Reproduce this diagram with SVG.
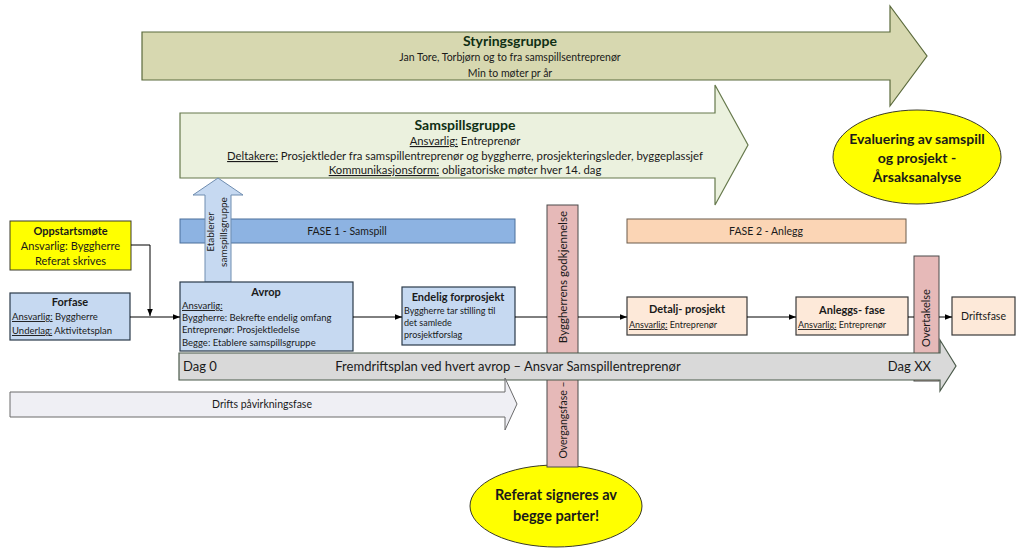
<svg xmlns="http://www.w3.org/2000/svg" width="1024" height="554" viewBox="0 0 1024 554">
<defs>
<marker id="ah" viewBox="0 0 10 10" refX="10" refY="5" markerWidth="7" markerHeight="7" markerUnits="userSpaceOnUse" orient="auto">
<path d="M0,1 L10,5 L0,9 Z" fill="#000"/>
</marker>
</defs>
<style>
text{font-family:Lato,"Open Sans","Liberation Sans",sans-serif;fill:#1a1a1a}
.b{font-weight:bold}
.u{text-decoration:underline}
.c{text-anchor:middle}
.blue{fill:#c6d9f1;stroke:#2b3a4a;stroke-width:1.2}
.peach{fill:#fde9d9;stroke:#3a3a3a;stroke-width:1.2}
.pink{fill:#e6b9b8;stroke:#4a4a4a;stroke-width:1}
.yel{fill:#ffff00;stroke:#3a3a2a;stroke-width:1}
.conn{fill:none;stroke:#000;stroke-width:1}
.t9{font-size:9.5px}
.t11{font-size:11px}
.g{fill:#0f2f14}
</style>
<rect width="1024" height="554" fill="#fff"/>

<g id="styringsgruppe">
<path d="M142,32 H890 V6 L927,56 L890,106 V80 H142 Z" fill="#d7d8b0" stroke="#5b6a3c" stroke-width="1.2"/>
<text x="510" y="46" class="c b g" font-size="14">Styringsgruppe</text>
<text x="510" y="61" class="c" font-size="10.5">Jan Tore, Torbjørn og to fra samspillsentreprenør</text>
<text x="510" y="77" class="c" font-size="10.5">Min to møter pr år</text>
</g>

<g id="samspillsgruppe">
<path d="M180,113 H715 V85 L748,145 L715,205 V178 H180 Z" fill="#ebf1de" stroke="#66794c" stroke-width="1.2"/>
<text x="465" y="130" class="c b g" font-size="14">Samspillsgruppe</text>
<text x="465" y="145" class="c" font-size="11.3"><tspan class="u">Ansvarlig:</tspan> Entreprenør</text>
<text x="465" y="160" class="c" font-size="11.3"><tspan class="u">Deltakere:</tspan> Prosjektleder fra samspillentreprenør og byggherre, prosjekteringsleder, byggeplassjef</text>
<text x="465" y="174" class="c" font-size="11.3"><tspan class="u">Kommunikasjonsform:</tspan> obligatoriske møter hver 14. dag</text>
</g>

<g id="evaluering">
<ellipse cx="917" cy="157" rx="84" ry="47" class="yel"/>
<text x="917" y="144" class="c b" font-size="14">Evaluering av samspill</text>
<text x="917" y="163" class="c b" font-size="14">og prosjekt -</text>
<text x="917" y="182" class="c b" font-size="14">Årsaksanalyse</text>
</g>

<g id="fase1">
<rect x="180" y="219" width="335" height="24" fill="#8db3e2" stroke="#4a6e9a" stroke-width="1"/>
<text x="347" y="235" class="c" font-size="10.5">FASE 1 - Samspill</text>
</g>

<g id="fase2">
<rect x="627" y="219" width="279" height="24" fill="#fbd5b5" stroke="#6a5a4a" stroke-width="1"/>
<text x="766" y="235" class="c" font-size="10.5">FASE 2 - Anlegg</text>
</g>

<g id="etablerer">
<path d="M205,282 V195 H193 L218,178 L243,195 H231 V282 Z" fill="#c6d9f1" stroke="#6f8db0" stroke-width="1"/>
<text transform="translate(214,232) rotate(-90)" class="c" font-size="10">Etablerer</text>
<text transform="translate(227,232) rotate(-90)" class="c" font-size="10">samspillsgruppe</text>
</g>

<g id="oppstartsmote">
<rect x="10" y="221" width="121" height="49" class="yel"/>
<text x="70.5" y="235" class="c b" font-size="11">Oppstartsmøte</text>
<text x="70.5" y="250" class="c" font-size="11">Ansvarlig: Byggherre</text>
<text x="70.5" y="265" class="c" font-size="11">Referat skrives</text>
</g>

<g id="forfase">
<rect x="10" y="293" width="120" height="47" class="blue"/>
<text x="70" y="306" class="c b" font-size="11">Forfase</text>
<text x="12" y="320" class="t9"><tspan class="u">Ansvarlig:</tspan> Byggherre</text>
<text x="12" y="334" class="t9"><tspan class="u">Underlag:</tspan> Aktivitetsplan</text>
</g>

<g id="referat">
<ellipse cx="556" cy="506" rx="86" ry="41" class="yel"/>
<text x="556" y="500" class="c b" font-size="14.5">Referat signeres av</text>
<text x="556" y="521" class="c b" font-size="14.5">begge parter!</text>
</g>

<g id="overgangsfase">
<rect x="547" y="205" width="31" height="262" class="pink"/>
<text transform="translate(567,277) rotate(-90)" class="c" font-size="11.5">Byggherrens godkjennelse</text>
<text transform="translate(567,420) rotate(-90)" class="c" font-size="10.5">Overgangsfase –</text>
</g>

<g id="overtakelse">
<rect x="914" y="256" width="25" height="125" class="pink"/>
<text transform="translate(930,318) rotate(-90)" class="c" font-size="11">Overtakelse</text>
</g>

<g id="fremdriftsplan">
<path d="M179,353 H940 V340 L956,366 L940,391 V380 H179 Z" fill="#d9d9d9" stroke="#4b5a4b" stroke-width="1.2"/>
<text x="183" y="371" font-size="13">Dag 0</text>
<text x="508" y="371" class="c" font-size="13">Fremdriftsplan ved hvert avrop – Ansvar Samspillentreprenør</text>
<text x="931" y="371" font-size="13" text-anchor="end">Dag XX</text>
</g>

<g id="drifts-pavirkningsfase">
<path d="M10,392 H505 V378 L517,404 L505,430 V417 H10 Z" fill="#efeff4" stroke="#6a6a6a" stroke-width="1"/>
<text x="262" y="408" class="c" font-size="10.5">Drifts påvirkningsfase</text>
</g>

<g id="avrop">
<rect x="180" y="282" width="173" height="69" class="blue"/>
<text x="266" y="296" class="c b" font-size="11">Avrop</text>
<text x="182" y="309" class="t9"><tspan class="u">Ansvarlig:</tspan></text>
<text x="182" y="321" class="t9">Byggherre: Bekrefte endelig omfang</text>
<text x="182" y="333" class="t9">Entreprenør: Prosjektledelse</text>
<text x="182" y="346" class="t9">Begge: Etablere samspillsgruppe</text>
</g>

<g id="endelig-forprosjekt">
<rect x="402" y="287" width="113" height="58" class="blue"/>
<text x="458" y="301" class="c b" font-size="11">Endelig forprosjekt</text>
<text x="404" y="314" font-size="9">Byggherre tar stilling til</text>
<text x="404" y="326" font-size="9">det samlede</text>
<text x="404" y="338" font-size="9">prosjektforslag</text>
</g>

<g id="detaljprosjekt">
<rect x="627" y="297" width="120" height="38" class="peach"/>
<text x="687" y="313" class="c b" font-size="11">Detalj- prosjekt</text>
<text x="629" y="328" font-size="9"><tspan class="u">Ansvarlig:</tspan> Entreprenør</text>
</g>

<g id="anleggsfase">
<rect x="796" y="297" width="112" height="38" class="peach"/>
<text x="852" y="314" class="c b" font-size="11">Anleggs- fase</text>
<text x="798" y="328" font-size="9"><tspan class="u">Ansvarlig:</tspan> Entreprenør</text>
</g>

<g id="driftsfase">
<rect x="952" y="297" width="63" height="38" class="peach"/>
<text x="983.5" y="320" class="c" font-size="10.5">Driftsfase</text>
</g>

<g id="connectors">
<path class="conn" d="M131,245 H150 V316" marker-end="url(#ah)"/>
<path class="conn" d="M130,317 H180" marker-end="url(#ah)"/>
<path class="conn" d="M353,317 H402" marker-end="url(#ah)"/>
<path class="conn" d="M515,317 H547"/>
<path class="conn" d="M578,317 H627" marker-end="url(#ah)"/>
<path class="conn" d="M747,317 H796" marker-end="url(#ah)"/>
<path class="conn" d="M908,317 H914"/>
<path class="conn" d="M939,317 H952" marker-end="url(#ah)"/>
</g>
</svg>
